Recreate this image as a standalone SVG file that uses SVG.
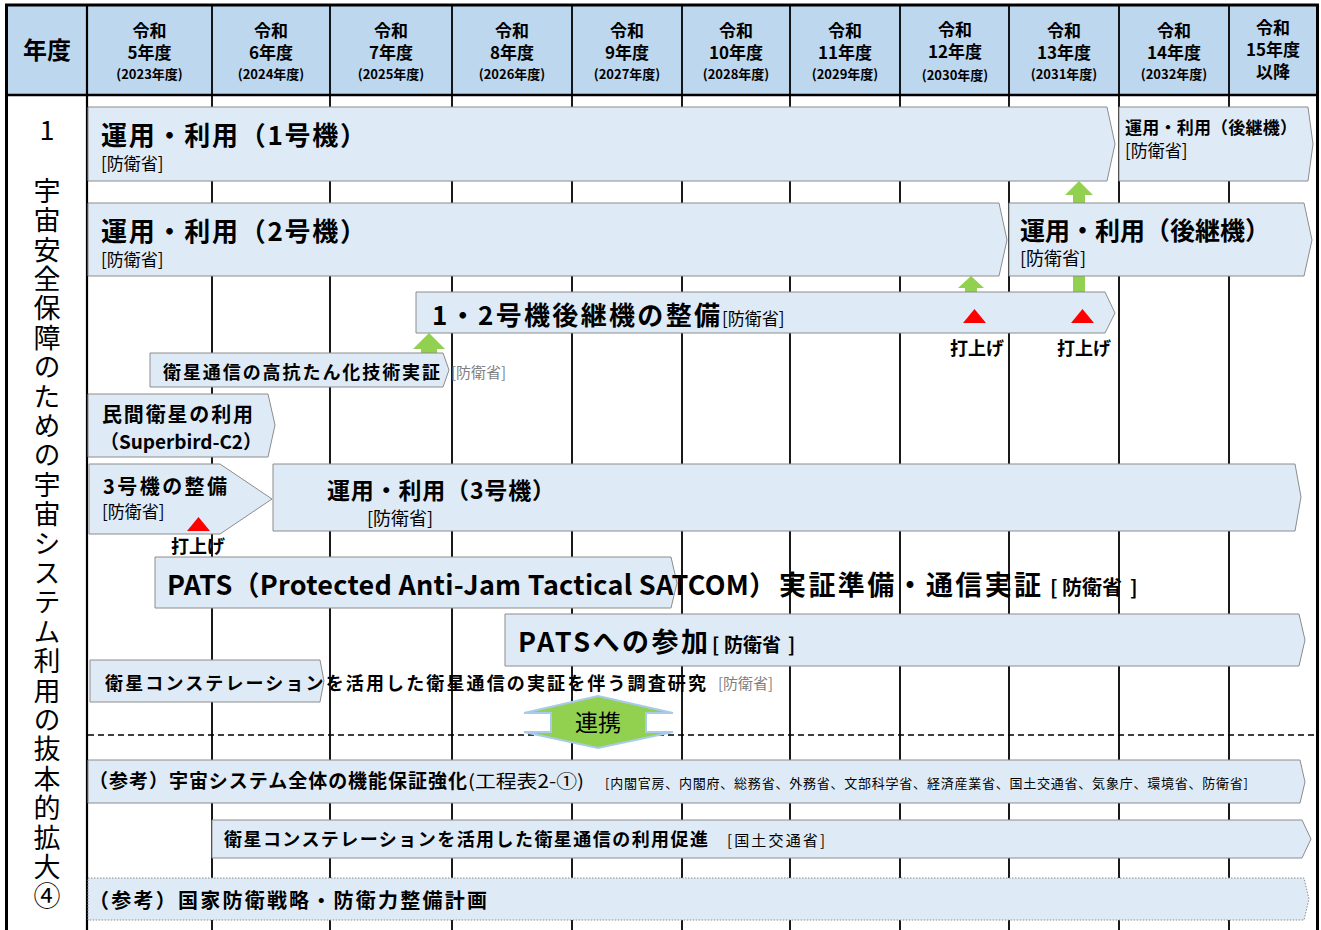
<svg xmlns="http://www.w3.org/2000/svg" width="1321" height="930" viewBox="0 0 1321 930">
<defs>
<style>
text{font-family:"Noto Sans CJK JP","Noto Sans CJK SC",sans-serif;fill:#000}
.b{font-weight:700}
.n{font-weight:400}
.g{fill:#7F7F7F;font-weight:400}
.hd{font-weight:700;text-anchor:middle}
.bar{fill:#DEEBF7;stroke:#8C8C8C;stroke-width:1}
.dot{fill:#DEEBF7;stroke:#8C8C8C;stroke-width:1;stroke-dasharray:1.5 1.5}
.vl{stroke:#000;stroke-width:1.8}
.grn{fill:#92D050}
.red{fill:#FF0000}
.c{text-anchor:middle}
.vt{writing-mode:vertical-rl;letter-spacing:2.4px}
</style>
</defs>
<rect x="0" y="0" width="1321" height="930" fill="#fff"/>
<!-- header -->
<g id="header">
<rect x="7" y="5" width="1310" height="90" fill="#BDD7EE"/>
<text class="hd" x="47" y="59" font-size="24">年度</text>
<g font-size="17">
<text class="hd" x="149.5" y="37">令和</text><text class="hd" x="149.5" y="59">5年度</text><text class="hd" x="149.5" y="79" font-size="13">(2023年度)</text>
<text class="hd" x="271" y="37">令和</text><text class="hd" x="271" y="59">6年度</text><text class="hd" x="271" y="79" font-size="13">(2024年度)</text>
<text class="hd" x="391" y="37">令和</text><text class="hd" x="391" y="59">7年度</text><text class="hd" x="391" y="79" font-size="13">(2025年度)</text>
<text class="hd" x="512" y="37">令和</text><text class="hd" x="512" y="59">8年度</text><text class="hd" x="512" y="79" font-size="13">(2026年度)</text>
<text class="hd" x="627" y="37">令和</text><text class="hd" x="627" y="59">9年度</text><text class="hd" x="627" y="79" font-size="13">(2027年度)</text>
<text class="hd" x="736" y="37">令和</text><text class="hd" x="736" y="59">10年度</text><text class="hd" x="736" y="79" font-size="13">(2028年度)</text>
<text class="hd" x="845" y="37">令和</text><text class="hd" x="845" y="59">11年度</text><text class="hd" x="845" y="79" font-size="13">(2029年度)</text>
<text class="hd" x="955" y="36">令和</text><text class="hd" x="955" y="58">12年度</text><text class="hd" x="955" y="80" font-size="13">(2030年度)</text>
<text class="hd" x="1064" y="37">令和</text><text class="hd" x="1064" y="59">13年度</text><text class="hd" x="1064" y="79" font-size="13">(2031年度)</text>
<text class="hd" x="1174" y="37">令和</text><text class="hd" x="1174" y="59">14年度</text><text class="hd" x="1174" y="79" font-size="13">(2032年度)</text>
<text class="hd" x="1273" y="34">令和</text><text class="hd" x="1273" y="56">15年度</text><text class="hd" x="1273" y="78">以降</text>
</g>
</g>
<!-- grid -->
<g id="grid">
<g class="vl">
<line x1="212" y1="5" x2="212" y2="930"/>
<line x1="330" y1="5" x2="330" y2="930"/>
<line x1="452" y1="5" x2="452" y2="930"/>
<line x1="572" y1="5" x2="572" y2="930"/>
<line x1="682" y1="5" x2="682" y2="930"/>
<line x1="790" y1="5" x2="790" y2="930"/>
<line x1="900" y1="5" x2="900" y2="930"/>
<line x1="1009" y1="5" x2="1009" y2="930"/>
<line x1="1119" y1="5" x2="1119" y2="930"/>
<line x1="1229" y1="5" x2="1229" y2="930"/>
</g>
<line x1="87" y1="5" x2="87" y2="930" stroke="#000" stroke-width="2.2"/>
<line x1="7" y1="95" x2="1317" y2="95" stroke="#000" stroke-width="2.5"/>
<rect x="6.5" y="5" width="1311" height="940" fill="none" stroke="#000" stroke-width="3"/>
<line x1="88" y1="735" x2="1317" y2="735" stroke="#000" stroke-width="1.3" stroke-dasharray="6 4"/>
</g>
<!-- side label -->
<g id="side">
<text class="n" x="47" y="140" font-size="27" text-anchor="middle">1</text>
<text class="n vt" x="47" y="177" font-size="27">宇宙安全保障のための宇宙システム利用の抜本的拡大④</text>
</g>
<!-- connectors -->
<g id="connectors">
<polygon class="grn" points="429,333 445,349 437,349 437,353 421,353 421,349 413,349"/>
<polygon class="grn" points="971,276 984,288 977,288 977,293 965,293 965,288 958,288"/>
<polygon class="grn" points="1079,181 1093,195 1085,195 1085,293 1073,293 1073,195 1065,195"/>
</g>
<!-- bars -->
<g id="n1">
<polygon class="bar" points="88,107 1107,107 1115,144 1107,181 88,181"/>
<text class="b" x="101" y="145" font-size="26" textLength="265">運用・利用（1号機）</text>
<text class="n" x="101" y="170" font-size="17">[防衛省]</text>
</g>
<g id="n1s">
<polygon class="bar" points="1119,107 1308,107 1313,144 1308,181 1119,181"/>
<text class="b" x="1125" y="134" font-size="17" textLength="172">運用・利用（後継機）</text>
<text class="n" x="1125" y="157" font-size="17">[防衛省]</text>
</g>
<g id="n2">
<polygon class="bar" points="88,203 999,203 1007,240 999,276 88,276"/>
<text class="b" x="101" y="241" font-size="26" textLength="265">運用・利用（2号機）</text>
<text class="n" x="101" y="266" font-size="17">[防衛省]</text>
</g>
<g id="n2s">
<polygon class="bar" points="1009,203 1304,203 1312,240 1304,276 1009,276"/>
<text class="b" x="1020" y="240" font-size="25" textLength="250">運用・利用（後継機）</text>
<text class="n" x="1020" y="265" font-size="18">[防衛省]</text>
</g>
<g id="n12">
<polygon class="bar" points="416,292 1105,292 1115,313 1105,333 416,333"/>
<text x="432" y="325"><tspan class="b" font-size="26" textLength="288">1・2号機後継機の整備</tspan><tspan class="n" x="722" font-size="17">[防衛省]</tspan></text>
<polygon class="red" points="974.5,309 986,323 963,323"/>
<polygon class="red" points="1082.5,309 1094,323 1071,323"/>
<text class="b c" x="977" y="355" font-size="18">打上げ</text>
<text class="b c" x="1084" y="355" font-size="18">打上げ</text>
</g>
<g id="nk">
<polygon class="bar" points="150,353 443,353 449,370 443,387 150,387"/>
<text class="b" x="163" y="379" font-size="18" textLength="277">衛星通信の高抗たん化技術実証</text>
<text class="g" x="451" y="378" font-size="15">[防衛省]</text>
</g>
<g id="nm">
<polygon class="bar" points="88,394 268,394 275,425 268,457 88,457"/>
<text class="b" x="102" y="422" font-size="20" textLength="151">民間衛星の利用</text>
<text class="b" x="100" y="449" font-size="19" textLength="162">（Superbird-C2）</text>
</g>
<g id="n3">
<polygon class="bar" points="89,464 220,464 272,499 220,534 89,534"/>
<text class="b" x="103" y="494" font-size="20" textLength="124">3号機の整備</text>
<text class="n" x="102" y="518" font-size="17">[防衛省]</text>
<polygon class="red" points="198.5,517 210,531 187,531"/>
<text class="b c" x="198" y="553" font-size="18">打上げ</text>
</g>
<g id="n3u">
<polygon class="bar" points="273,464 1295,464 1301,497 1295,531 273,531"/>
<text class="b" x="327" y="499" font-size="23" textLength="228">運用・利用（3号機）</text>
<text class="n" x="367" y="525" font-size="18">[防衛省]</text>
</g>
<g id="npats">
<polygon class="bar" points="155,557 671,557 677,583 671,608 155,608"/>
<text class="b" x="167" y="595" font-size="27"><tspan textLength="609">PATS（Protected Anti-Jam Tactical SATCOM）</tspan><tspan x="779" textLength="262">実証準備・通信実証</tspan><tspan x="1050" font-size="20">[</tspan><tspan x="1062" font-size="20">防衛省</tspan><tspan x="1130" font-size="20">]</tspan></text>
</g>
<g id="npats2">
<polygon class="bar" points="505,614 1299,614 1305,640 1299,666 505,666"/>
<text class="b" x="518" y="652" font-size="27"><tspan textLength="190">PATSへの参加</tspan><tspan x="712" font-size="19">[</tspan><tspan x="724" font-size="19">防衛省</tspan><tspan x="788" font-size="19">]</tspan></text>
</g>
<g id="nconst">
<polygon class="bar" points="90,660 320,660 324,681 320,702 90,702"/>
<text class="b" x="105" y="690" font-size="18" textLength="601">衛星コンステレーションを活用した衛星通信の実証を伴う調査研究</text>
<text class="g" x="718" y="689" font-size="15">[防衛省]</text>
</g>
<g id="nrenkei">
<polygon points="598,696 673,713 646,713 646,732 673,732 598,748 524,732 551,732 551,713 524,713" fill="#92D050" stroke="#A9CBEA" stroke-width="2"/>
<text class="n c" x="598" y="731" font-size="23">連携</text>
</g>
<g id="nref1">
<polygon class="bar" points="88,760 1300,760 1305,782 1300,803 88,803"/>
<text x="89" y="788" font-size="17"><tspan class="b" font-size="19" textLength="378">（参考）宇宙システム全体の機能保証強化</tspan><tspan class="n" x="468" font-size="18" textLength="116" lengthAdjust="spacingAndGlyphs">(工程表2-①)</tspan><tspan class="n" x="605" font-size="13" textLength="643">[内閣官房、内閣府、総務省、外務省、文部科学省、経済産業省、国土交通省、気象庁、環境省、防衛省]</tspan></text>
</g>
<g id="nsat">
<polygon class="bar" points="212,820 1302,820 1311,839 1302,858 212,858"/>
<text x="224" y="846" font-size="18"><tspan class="b" textLength="484">衛星コンステレーションを活用した衛星通信の利用促進</tspan><tspan class="n" x="727" font-size="15" textLength="98">[国土交通省]</tspan></text>
</g>
<g id="nref2">
<polygon class="dot" points="88,878 1304,878 1309,899 1304,920 88,920"/>
<text class="b" x="89" y="908" font-size="20" textLength="398">（参考）国家防衛戦略・防衛力整備計画</text>
</g>
</svg>
